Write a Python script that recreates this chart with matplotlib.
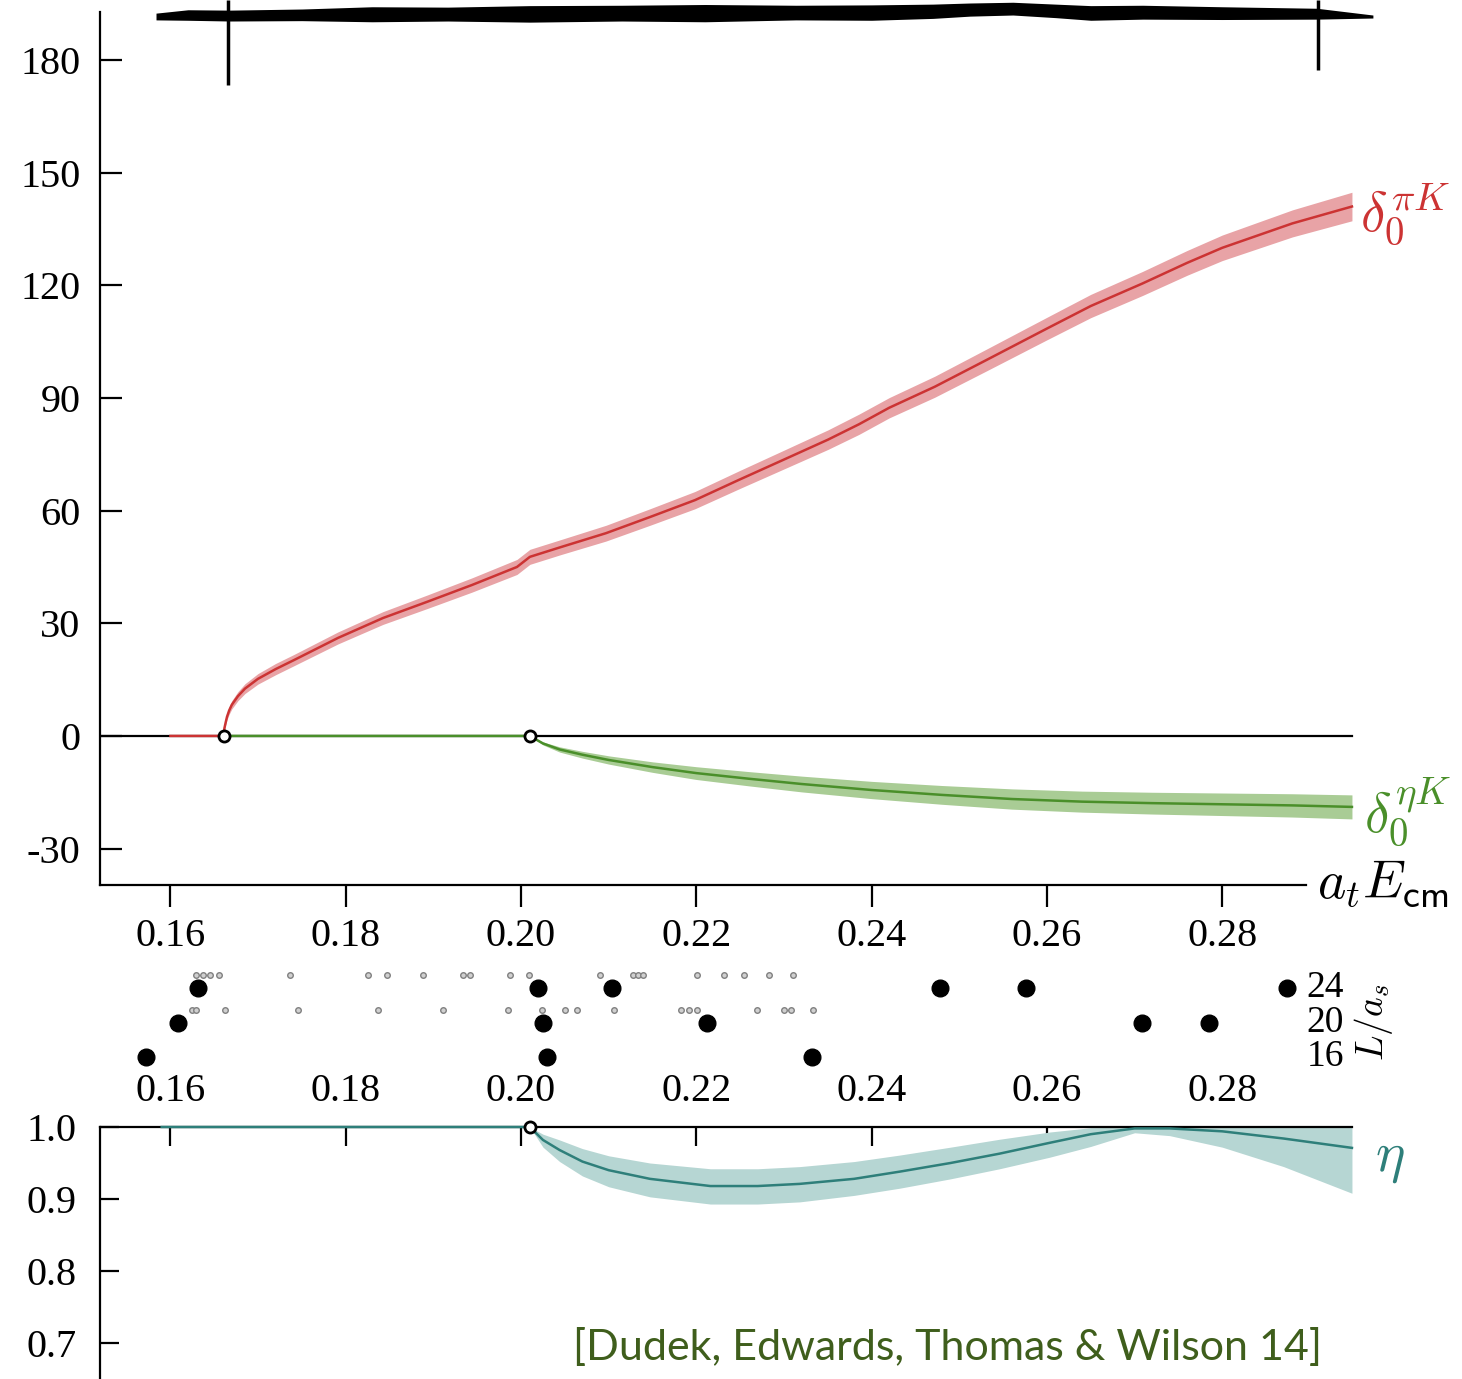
import numpy as np
import matplotlib
matplotlib.use('Agg')
import matplotlib.pyplot as plt

plt.rcParams['font.family'] = ['Liberation Serif', 'DejaVu Serif']
plt.rcParams['mathtext.fontset'] = 'cm'
plt.rcParams['axes.unicode_minus'] = False

# phase shift delta_0^{piK} (degrees) vs a_t E_cm
red_x = [0.1600, 0.1661, 0.16615, 0.1663, 0.16645, 0.1667, 0.1670, 0.1677, 0.1685, 0.16998,
         0.1720, 0.17409, 0.17911, 0.18424, 0.18926, 0.1944,
         0.19953, 0.20101, 0.20455, 0.20969, 0.21471, 0.21984, 0.22486, 0.22999, 0.23501,
         0.23855, 0.2420, 0.2472, 0.2530, 0.2600, 0.2650, 0.2709, 0.2760, 0.2800, 0.2880, 0.2948]
red_y = [0, 0, 2.0, 3.6, 5.1, 6.8, 8.3, 10.6, 12.6, 15.2,
         17.8, 20.2, 26.1, 31.4, 35.7, 40.2,
         45.0, 47.7, 50.3, 54.0, 58.3, 62.8, 68.2, 73.6, 78.9,
         83.0, 87.4, 93.0, 100.0, 108.5, 114.5, 120.5, 126.0, 130.0, 136.5, 141.0]
red_err = [0, 0, 0.4, 0.6, 0.8, 1.0, 1.1, 1.2, 1.3, 1.4,
           1.5, 1.5, 1.6, 1.7, 1.8, 1.9,
           2.0, 2.0, 2.0, 2.1, 2.2, 2.3, 2.4, 2.5, 2.6,
           2.7, 2.7, 2.8, 2.9, 3.0, 3.1, 3.2, 3.3, 3.4, 3.6, 3.8]

# phase shift delta_0^{etaK}
green_x = [0.1661, 0.2010, 0.2025, 0.2044, 0.2070, 0.2100, 0.2150, 0.2200, 0.2260, 0.2320, 0.2400,
           0.2480, 0.2560, 0.2640, 0.2720, 0.2800, 0.2880, 0.2948]
green_y = [0, 0, -2.0, -3.6, -5.0, -6.4, -8.3, -9.9, -11.4, -12.8, -14.4,
           -15.7, -16.8, -17.5, -17.9, -18.2, -18.5, -18.9]
green_err = [0, 0, 0.4, 0.7, 0.9, 1.1, 1.4, 1.7, 1.9, 2.1, 2.3,
             2.5, 2.7, 2.8, 2.9, 3.0, 3.1, 3.2]

# inelasticity eta
eta_x = [0.1590, 0.2010, 0.2025, 0.2044, 0.2070, 0.2100, 0.2147, 0.2216, 0.2270, 0.2318, 0.2380,
         0.2432, 0.2490, 0.2546, 0.2603, 0.2650, 0.2700, 0.2740, 0.2800, 0.2870, 0.2948]
eta_y = [1.0, 1.0, 0.982, 0.968, 0.952, 0.940, 0.928, 0.918, 0.918, 0.921, 0.928,
         0.938, 0.950, 0.963, 0.978, 0.990, 0.998, 0.998, 0.994, 0.984, 0.971]
eta_lo = [1.0, 1.0, 0.972, 0.952, 0.932, 0.917, 0.903, 0.893, 0.893, 0.896, 0.905,
          0.915, 0.928, 0.942, 0.958, 0.973, 0.992, 0.988, 0.972, 0.945, 0.908]
eta_hi = [1.0, 1.0, 0.990, 0.982, 0.970, 0.960, 0.950, 0.942, 0.942, 0.945, 0.952,
          0.961, 0.972, 0.983, 0.993, 0.999, 1.0, 1.0, 1.0, 1.0, 1.0]

# thresholds (open circles)
thr_x = [0.1661, 0.2010]

# noisy band at top of panel
band_x = [0.15835, 0.1620, 0.16679, 0.1750, 0.1830, 0.19166, 0.2010, 0.21151, 0.2210, 0.23136,
          0.2400, 0.2470, 0.25121, 0.25612, 0.2610, 0.2650, 0.27095, 0.2800, 0.2908, 0.29719]
band_lo = [190.7, 190.6, 190.4, 190.5, 190.2, 190.4, 190.1, 190.4, 190.2, 190.7,
           190.6, 191.1, 191.7, 192.0, 191.3, 190.6, 190.9, 190.8, 190.9, 191.2]
band_hi = [192.5, 193.4, 193.3, 193.6, 194.2, 194.1, 194.5, 194.6, 194.8, 194.6,
           194.7, 194.9, 195.2, 195.4, 194.9, 194.5, 194.6, 194.2, 193.8, 192.0]
vl_x = [0.1666, 0.2909]
vl_bottom = [173.3, 177.3]

# finite volume spectra
L24 = [0.16314, 0.20193, 0.21037, 0.24778, 0.25759, 0.28737]
L20 = [0.16086, 0.20250, 0.22121, 0.27088, 0.27853]
L16 = [0.15720, 0.20296, 0.23318]
free24 = [0.16291, 0.16371, 0.16451, 0.16553, 0.17369, 0.18253, 0.18470, 0.18881, 0.19337, 0.19417,
          0.19874, 0.20090, 0.20900, 0.21277, 0.21334, 0.21391, 0.22007, 0.22315, 0.22543,
          0.22829, 0.23102]
free20 = [0.16245, 0.16291, 0.16622, 0.17455, 0.18367, 0.19109, 0.19851, 0.20238, 0.20501,
          0.20638, 0.21060, 0.21824, 0.21916, 0.22007, 0.22691, 0.22999, 0.23079, 0.23330]

xticks = [0.16, 0.18, 0.20, 0.22, 0.24, 0.26, 0.28]
xlabels = ['0.16', '0.18', '0.20', '0.22', '0.24', '0.26', '0.28']
yticks = [-30, 0, 30, 60, 90, 120, 150, 180]
eta_ticks = [0.7, 0.8, 0.9, 1.0]

red = '#cc3333'
red_band = '#e8a3a6'
green = '#4a8f2a'
green_band = '#a9cc95'
teal = '#2e7f7a'
teal_band = '#b6d6d3'
cite = '#3f5e1c'

xmin, xmax = 0.15196, 0.2980
fs = 29

fig = plt.figure(figsize=(14.62, 13.79), dpi=100)
ax = fig.add_axes([100/1462, 494/1379, 1280/1462, 885/1379])
ax.set_xlim(xmin, xmax)
ax.set_ylim(-39.7, 196.0)
for s in ['top', 'right']:
    ax.spines[s].set_visible(False)
ax.spines['left'].set_bounds(-39.7, 192.8)
ax.spines['bottom'].set_bounds(xmin, 0.2896)
for s in ['left', 'bottom']:
    ax.spines[s].set_linewidth(1.6)
ax.set_xticks(xticks)
ax.set_xticklabels(xlabels)
ax.set_yticks(yticks)
ax.tick_params(axis='x', direction='out', length=16, width=1.6, pad=8, labelsize=fs)
ax.tick_params(axis='y', direction='in', length=16, width=1.6, pad=14, labelsize=fs)

ax.plot([xmin, 0.2948], [0, 0], color='black', lw=1.6, zorder=2)
ax.fill_between(red_x, np.array(red_y) - np.array(red_err), np.array(red_y) + np.array(red_err),
                color=red_band, lw=0, zorder=3)
ax.plot(red_x, red_y, color=red, lw=1.8, zorder=4)
ax.fill_between(green_x, np.array(green_y) - np.array(green_err), np.array(green_y) + np.array(green_err),
                color=green_band, lw=0, zorder=3)
ax.plot(green_x, green_y, color=green, lw=1.8, zorder=4)
ax.plot(thr_x, [0, 0], 'o', ms=8, mfc='white', mec='black', mew=2, zorder=6)

ax.fill_between(band_x, band_lo, band_hi, color='black', lw=0, clip_on=False)
ax.vlines(vl_x, vl_bottom, 196.0, color='black', lw=2.5, clip_on=False)

ax.text(0.2957, 139.0, r'$\delta_0^{\pi K}$', color=red, fontsize=40, va='center', ha='left')
ax.text(0.2962, -20.0, r'$\delta_0^{\eta K}$', color=green, fontsize=40, va='center', ha='left')
ax.text(0.2908, -39.7, r'$a_t E_{\mathsf{cm}}$', color='black', fontsize=39, va='center', ha='left')

# strip with spectra
axs = fig.add_axes([100/1462, 304/1379, 1280/1462, 115/1379])
axs.set_xlim(xmin, xmax)
axs.set_ylim(13.91, 27.25)
axs.axis('off')
axs.plot(free24, [25.5] * len(free24), 'o', ms=4, mfc='#d0d0d0', mec='#808080', mew=1)
axs.plot(free20, [21.5] * len(free20), 'o', ms=4, mfc='#d0d0d0', mec='#808080', mew=1)
axs.plot(L24, [24] * len(L24), 'o', color='black', ms=12)
axs.plot(L20, [20] * len(L20), 'o', color='black', ms=12)
axs.plot(L16, [16] * len(L16), 'o', color='black', ms=12)
for L in [24, 20, 16]:
    axs.text(0.2896, L, str(L), fontsize=27, va='center', ha='left')
axs.text(0.2973, 20, r'$L/a_s$', fontsize=27, rotation=90, va='center', ha='center')

# eta panel
axe = fig.add_axes([100/1462, 0, 1280/1462, 252/1379])
axe.set_xlim(xmin, xmax)
axe.set_ylim(0.65, 1.0)
for s in ['bottom', 'right']:
    axe.spines[s].set_visible(False)
axe.spines['top'].set_bounds(xmin, 0.2948)
for s in ['left', 'top']:
    axe.spines[s].set_linewidth(1.6)
axe.xaxis.set_ticks_position('top')
axe.set_xticks(xticks)
axe.set_xticklabels(xlabels)
axe.set_yticks(eta_ticks)
axe.set_yticklabels(['0.7', '0.8', '0.9', '1.0'])
axe.tick_params(axis='x', direction='in', length=14, width=1.6, pad=12, labelsize=fs)
axe.tick_params(axis='y', direction='in', length=14, width=1.6, pad=17, labelsize=fs)
axe.fill_between(eta_x, eta_lo, eta_hi, color=teal_band, lw=0, zorder=2)
axe.plot(eta_x, eta_y, color=teal, lw=1.8, zorder=3, clip_on=False)
axe.plot([0.2010], [1.0], 'o', ms=8, mfc='white', mec='black', mew=2, zorder=6, clip_on=False)
axe.text(0.2974, 0.955, r'$\eta$', color=teal, fontsize=40, va='center', ha='left')

fig.text(573/1462, 32/1379, '[Dudek, Edwards, Thomas & Wilson 14]', color=cite,
         fontsize=31, family='Lato', va='center', ha='left')

fig.savefig('out.png', dpi=100)
